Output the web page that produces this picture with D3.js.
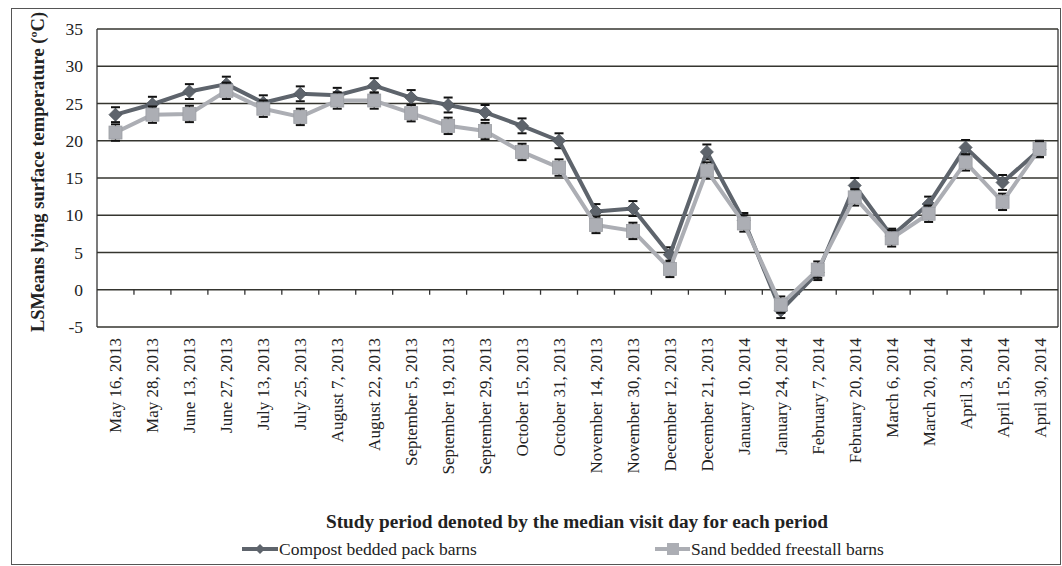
<!DOCTYPE html>
<html>
<head>
<meta charset="utf-8">
<script src="https://cdn.jsdelivr.net/npm/d3@7"></script>
<style>
  html, body { margin: 0; padding: 0; background: #fff; }
  svg { display: block; font-family: "Liberation Serif", "Times New Roman", serif; }
</style>
</head>
<body>
<svg id="chart" width="1062" height="566"></svg>
<script>
const categories = [
  "May 16, 2013", "May 28, 2013", "June 13, 2013", "June 27, 2013", "July 13, 2013",
  "July 25, 2013", "August 7, 2013", "August 22, 2013", "September 5, 2013",
  "September 19, 2013", "September 29, 2013", "October 15, 2013", "October 31, 2013",
  "November 14, 2013", "November 30, 2013", "December 12, 2013", "December 21, 2013",
  "January 10, 2014", "January 24, 2014", "February 7, 2014", "February 20, 2014",
  "March 6, 2014", "March 20, 2014", "April 3, 2014", "April 15, 2014", "April 30, 2014"
];
const compost = [23.5, 24.9, 26.6, 27.6, 25.1, 26.3, 26.1, 27.4, 25.8, 24.8, 23.8, 22.0, 20.0,
  10.5, 10.9, 4.7, 18.5, 9.3, -2.8, 2.3, 14.0, 7.2, 11.5, 19.1, 14.4, 18.8];
const sand = [21.1, 23.5, 23.6, 26.7, 24.3, 23.2, 25.4, 25.4, 23.7, 22.0, 21.3, 18.5, 16.4,
  8.7, 7.9, 2.8, 16.0, 8.9, -2.0, 2.7, 12.4, 6.9, 10.2, 17.1, 11.8, 18.9];
const compostSE = [1.0, 1.0, 1.0, 1.0, 1.0, 1.0, 1.0, 1.0, 1.0, 1.0, 1.0, 1.0, 1.0,
  1.0, 1.0, 1.0, 1.0, 1.0, 1.0, 1.0, 1.0, 1.0, 1.0, 1.0, 1.0, 1.0];
const sandSE = [1.1, 1.1, 1.1, 1.1, 1.1, 1.1, 1.1, 1.1, 1.1, 1.1, 1.1, 1.1, 1.1,
  1.1, 1.1, 1.1, 1.1, 1.1, 1.1, 1.1, 1.1, 1.1, 1.1, 1.1, 1.1, 1.1];
const yTicks = [-5, 0, 5, 10, 15, 20, 25, 30, 35];
const seriesNames = ["Compost bedded pack barns", "Sand bedded freestall barns"];
const yTitle = "LSMeans lying surface temperature (ºC)";
const xTitle = "Study period denoted by the median visit day for each period";

const svg = d3.select("#chart");
const plot = { left: 97, right: 1058, top: 29, bottom: 327 };
const colCompost = "#5e646c", colSand = "#acaeb4";

// outer frame
svg.append("rect").attr("x", 11.5).attr("y", 8.5).attr("width", 1049).attr("height", 556)
  .attr("fill", "#fff").attr("stroke", "#555").attr("stroke-width", 1);

const x = d3.scaleBand().domain(categories).range([plot.left, plot.right]).padding(0);
const y = d3.scaleLinear().domain([-5, 35]).range([plot.bottom, plot.top]);

// gridlines
svg.append("g").selectAll("line").data(yTicks).join("line")
  .attr("x1", plot.left).attr("x2", plot.right)
  .attr("y1", d => y(d)).attr("y2", d => y(d))
  .attr("stroke", "#35352f").attr("stroke-width", 1.4);

// plot border (left/right)
svg.append("line").attr("x1", plot.left).attr("x2", plot.left).attr("y1", plot.top).attr("y2", plot.bottom)
  .attr("stroke", "#333").attr("stroke-width", 1.3);
svg.append("line").attr("x1", plot.right).attr("x2", plot.right).attr("y1", plot.top).attr("y2", plot.bottom)
  .attr("stroke", "#333").attr("stroke-width", 1.3);

// y axis labels
const yAxis = d3.axisLeft(y).tickValues(yTicks).tickSize(0).tickPadding(14).tickFormat(d => String(d));
const gy = svg.append("g").attr("transform", `translate(${plot.left},0)`).call(yAxis);
gy.select(".domain").remove();
gy.selectAll("text").attr("font-size", 17.5).attr("fill", "#222")
  .attr("font-family", "Liberation Serif, serif");

// x axis at y=0 with boundary ticks
const boundaries = categories.slice(1).map(c => x(c));
svg.append("g").selectAll("line").data(boundaries).join("line")
  .attr("x1", d => d).attr("x2", d => d).attr("y1", y(0)).attr("y2", y(0) + 5)
  .attr("stroke", "#333").attr("stroke-width", 1.3);

// x labels (rotated) below the plot
const xAxis = d3.axisBottom(x).tickSize(0).tickPadding(0);
const gx = svg.append("g").attr("transform", `translate(0,${plot.bottom})`).call(xAxis);
gx.select(".domain").remove();
gx.selectAll("text")
  .attr("font-size", 17).attr("fill", "#222")
  .attr("font-family", "Liberation Serif, serif")
  .attr("text-anchor", "end")
  .attr("dy", null)
  .attr("transform", "translate(6,11) rotate(-90)")
  .attr("x", 0).attr("y", 0);

// axis titles
svg.append("text").attr("x", 577).attr("y", 528).attr("text-anchor", "middle")
  .attr("font-size", 19.3).attr("font-weight", "bold").attr("fill", "#222").text(xTitle);
svg.append("text").attr("transform", "translate(44,172) rotate(-90)").attr("text-anchor", "middle")
  .attr("font-size", 18.5).attr("font-weight", "bold").attr("fill", "#222").text(yTitle);

const cx = d => x(d) + x.bandwidth() / 2;

function drawSeries(values, se, color, shape) {
  const data = categories.map((c, i) => ({ c, v: values[i], e: se[i] }));
  const g = svg.append("g");
  g.selectAll("line.stem").data(data).join("line").attr("class", "stem")
    .attr("x1", d => cx(d.c)).attr("x2", d => cx(d.c))
    .attr("y1", d => y(d.v - d.e)).attr("y2", d => y(d.v + d.e))
    .attr("stroke", "#333").attr("stroke-width", 1.3);
  [1, -1].forEach(s => {
    g.selectAll("line.cap" + s).data(data).join("line")
      .attr("x1", d => cx(d.c) - 4.5).attr("x2", d => cx(d.c) + 4.5)
      .attr("y1", d => y(d.v + s * d.e)).attr("y2", d => y(d.v + s * d.e))
      .attr("stroke", "#111").attr("stroke-width", 2);
  });
  const line = d3.line().x(d => cx(d.c)).y(d => y(d.v));
  g.append("path").datum(data).attr("d", line).attr("fill", "none")
    .attr("stroke", color).attr("stroke-width", 4).attr("stroke-linejoin", "round");
  if (shape === "diamond") {
    g.selectAll("path.m").data(data).join("path").attr("class", "m")
      .attr("d", d => { const X = cx(d.c), Y = y(d.v); return `M${X},${Y-6.5}L${X+6.5},${Y}L${X},${Y+6.5}L${X-6.5},${Y}Z`; })
      .attr("fill", color).attr("stroke", "#4e545c").attr("stroke-width", 0.8);
  } else {
    g.selectAll("rect.m").data(data).join("rect").attr("class", "m")
      .attr("x", d => cx(d.c) - 6.5).attr("y", d => y(d.v) - 6.5).attr("width", 13).attr("height", 13)
      .attr("fill", color).attr("stroke", "#9c9ea4").attr("stroke-width", 0.8);
  }
}
drawSeries(compost, compostSE, colCompost, "diamond");
drawSeries(sand, sandSE, colSand, "square");

// legend
const legY = 549;
const lg = svg.append("g");
lg.append("line").attr("x1", 242).attr("x2", 278).attr("y1", legY).attr("y2", legY)
  .attr("stroke", colCompost).attr("stroke-width", 4);
lg.append("path").attr("d", `M260,${legY-5}L265,${legY}L260,${legY+5}L255,${legY}Z`).attr("fill", colCompost);
lg.append("text").attr("x", 279).attr("y", legY + 6).attr("font-size", 17.5).attr("fill", "#222").text(seriesNames[0]);
lg.append("line").attr("x1", 655).attr("x2", 690).attr("y1", legY).attr("y2", legY)
  .attr("stroke", colSand).attr("stroke-width", 4);
lg.append("rect").attr("x", 667).attr("y", legY - 6).attr("width", 12).attr("height", 12).attr("fill", colSand);
lg.append("text").attr("x", 691).attr("y", legY + 6).attr("font-size", 17.5).attr("fill", "#222").text(seriesNames[1]);
</script>
</body>
</html>
